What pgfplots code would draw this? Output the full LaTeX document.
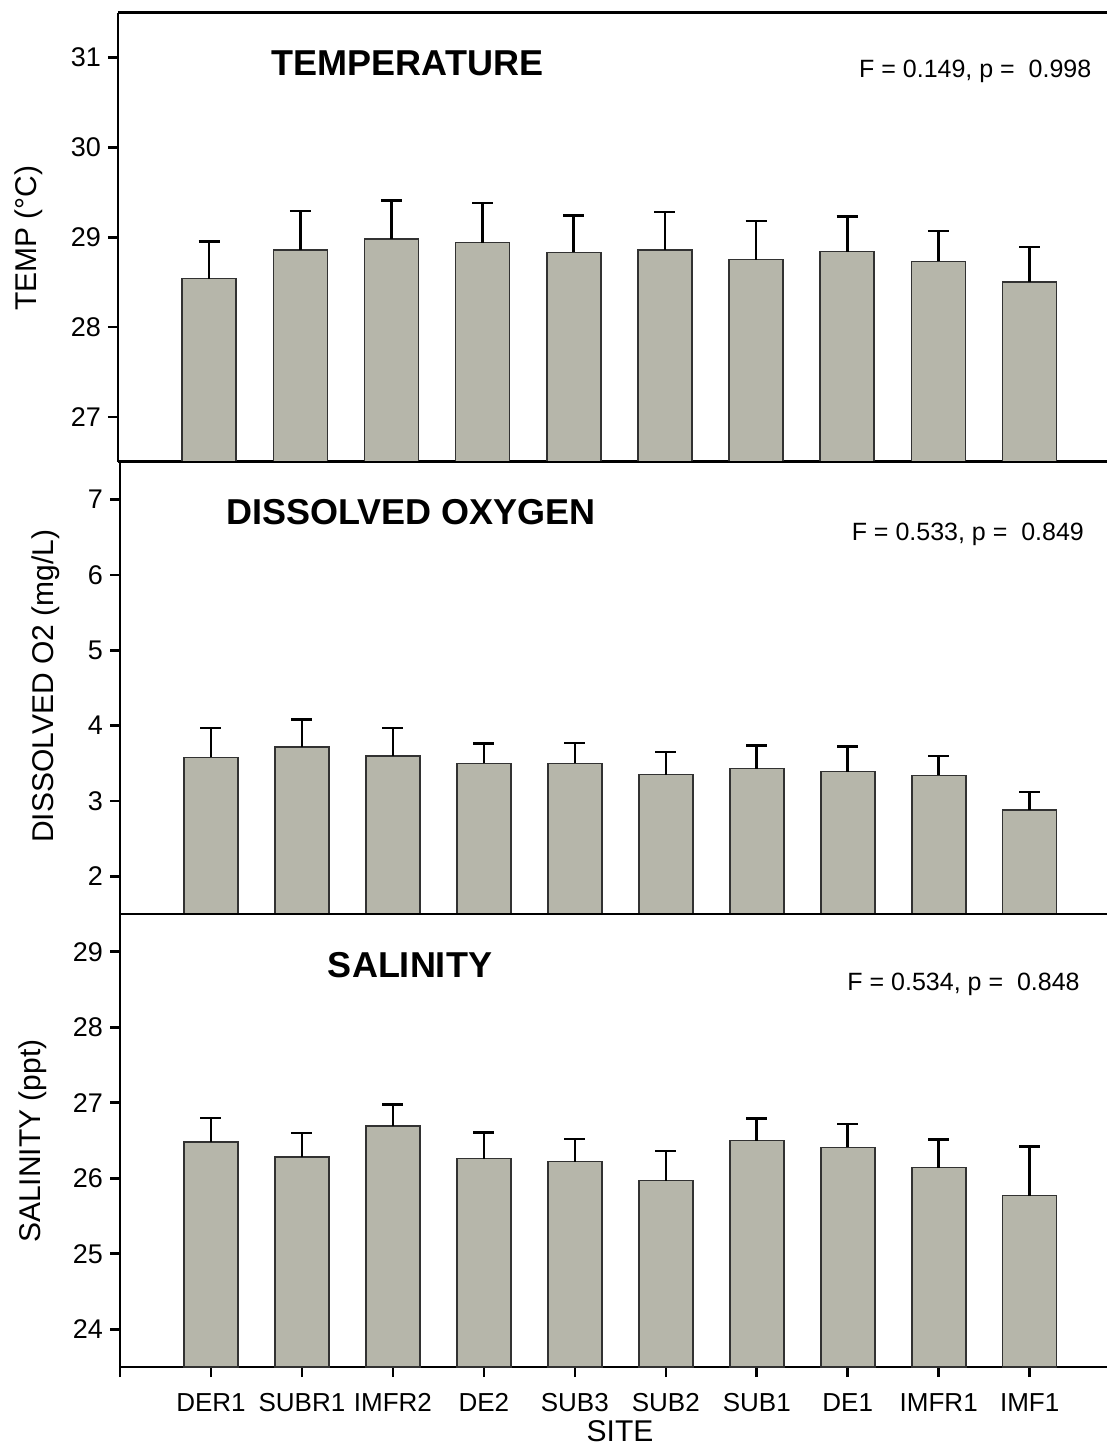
\documentclass[border=0pt]{standalone}
\usepackage{fontspec}
\setmainfont{Liberation Sans}
\usepackage{pgfplots}
\usepackage{pgfplotstable}
\pgfplotsset{compat=1.18}

\definecolor{barfill}{RGB}{182,182,170}
\definecolor{baredge}{RGB}{50,50,50}

% site index, mean, standard error
\pgfplotstableread{
x y e
0 28.54 0.41
1 28.86 0.43
2 28.98 0.43
3 28.94 0.44
4 28.83 0.41
5 28.86 0.42
6 28.75 0.43
7 28.84 0.39
8 28.73 0.34
9 28.50 0.39
}\temptable

\pgfplotstableread{
x y e
0 3.58 0.39
1 3.72 0.36
2 3.60 0.37
3 3.50 0.26
4 3.50 0.27
5 3.35 0.30
6 3.43 0.31
7 3.39 0.33
8 3.34 0.26
9 2.88 0.24
}\dotable

\pgfplotstableread{
x y e
0 26.48 0.32
1 26.28 0.32
2 26.69 0.29
3 26.26 0.35
4 26.22 0.30
5 25.97 0.39
6 26.50 0.29
7 26.41 0.31
8 26.14 0.37
9 25.77 0.65
}\saltable

\pgfplotsset{
  panel/.style={
    scale only axis,
    anchor=north west,
    width=493.5pt,
    xmin=-1, xmax=9.85,
    axis y line*=left,
    axis line style={line width=1.3pt},
    tick align=outside,
    major tick length=5pt,
    every tick/.style={black, line width=1.3pt},
    /pgf/number format/assume math mode=true,
    tick label style={font=\fontsize{13.5}{16}\selectfont},
    ybar, bar width=27pt,
    xtick=\empty,
  },
  barstyle/.style={
    fill=barfill, draw=baredge, line width=0.8pt,
    error bars/.cd,
      y dir=plus, y explicit,
      error bar style={black, line width=1.3pt},
      error mark options={rotate=90, black, line width=1.3pt, mark size=5.25pt},
  },
}

\begin{document}
\begin{tikzpicture}
\useasboundingbox (0pt,0pt) rectangle (553.5pt,-724pt);

% temperature
\begin{axis}[panel, at={(59pt,-6.35pt)}, width=494.5pt, height=224.5pt,
  ymin=26.5, ymax=31.5, ytick={27,28,29,30,31}]
\addplot[barstyle] table[x=x, y=y, y error=e] {\temptable};
\end{axis}

% dissolved oxygen
\begin{axis}[panel, at={(60pt,-231pt)}, height=226pt,
  ymin=1.5, ymax=7.5, ytick={2,3,4,5,6,7}]
\addplot[barstyle] table[x=x, y=y, y error=e] {\dotable};
\end{axis}

% salinity
\begin{axis}[panel, at={(60pt,-457pt)}, height=226.5pt,
  ymin=23.5, ymax=29.5, ytick={24,25,26,27,28,29},
  xtick={0,...,9}, xtick pos=bottom,
  xticklabels={DER1,SUBR1,IMFR2,DE2,SUB3,SUB2,SUB1,DE1,IMFR1,IMF1},
  xticklabel style={font=\fontsize{13}{15}\selectfont, text height=9.4pt, text depth=0pt, inner sep=0pt, yshift=-7.5pt},
  extra x ticks={-1}, extra x tick labels={}]
\addplot[barstyle] table[x=x, y=y, y error=e] {\saltable};
\end{axis}

\begin{scope}[every node/.style={inner sep=0pt}]
% panel titles
\node[anchor=base, font=\fontsize{18}{21}\selectfont\bfseries] at (203.75pt,-37.5pt) {TEMPERATURE};
\node[anchor=base, font=\fontsize{18}{21}\selectfont\bfseries] at (205.4pt,-262pt) {DISSOLVED OXYGEN};
\node[anchor=base, font=\fontsize{18}{21}\selectfont\bfseries] at (205pt,-488.5pt) {SALINITY};

% ANOVA results
\node[anchor=base east, font=\fontsize{12.5}{15}\selectfont] at (545.85pt,-38.65pt) {F = 0.149, p =\ \ 0.998};
\node[anchor=base east, font=\fontsize{12.5}{15}\selectfont] at (542.15pt,-270pt) {F = 0.533, p =\ \ 0.849};
\node[anchor=base east, font=\fontsize{12.5}{15}\selectfont] at (540pt,-495pt) {F = 0.534, p =\ \ 0.848};

% axis labels
\node[anchor=base, rotate=90, font=\fontsize{15}{18}\selectfont] at (18.35pt,-119.15pt) {TEMP (°C)};
\node[anchor=base, rotate=90, font=\fontsize{15}{18}\selectfont] at (26.65pt,-343.15pt) {DISSOLVED O2 (mg/L)};
\node[anchor=base, rotate=90, font=\fontsize{15}{18}\selectfont] at (20pt,-570.5pt) {SALINITY (ppt)};
\node[anchor=base, font=\fontsize{15}{18}\selectfont] at (310pt,-720.5pt) {SITE};
\end{scope}
\end{tikzpicture}
\end{document}
